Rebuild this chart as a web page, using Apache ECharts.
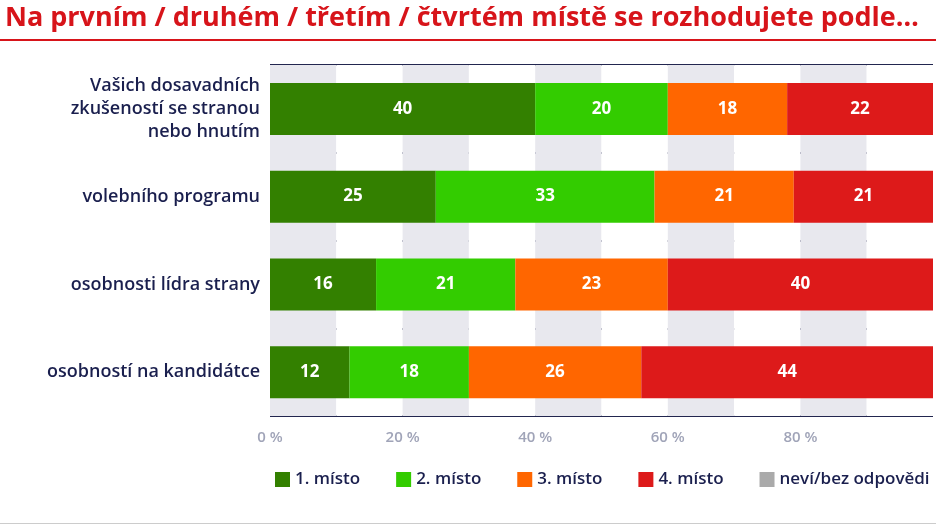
<!DOCTYPE html><html><head><meta charset="utf-8"><script src="https://cdn.jsdelivr.net/npm/echarts@6/dist/echarts.min.js"></script>
<style>body{margin:0}#c{width:936px;height:526px}</style></head><body><div id="c"></div><script>
const categories=["Vašich dosavadních\nzkušeností se stranou\nnebo hnutím","volebního programu","osobnosti lídra strany","osobností na kandidátce"];
const seriesNames=["1. místo","2. místo","3. místo","4. místo","neví/bez odpovědi"];
const first=[40,25,16,12];
const second=[20,33,21,18];
const third=[18,21,23,26];
const fourth=[22,21,40,44];
const unknown=[0,0,0,0];
const colors=["#338000","#33cc00","#ff6600","#dd1a1a","#aaaaaa"];
const vals=[first,second,third,fourth,unknown];
const chart=echarts.init(document.getElementById('c'));
chart.setOption({
animation:false,
title:{text:"Na prvním / druhém / třetím / čtvrtém místě se rozhodujete podle…",left:0,top:0,textStyle:{color:"#d7141a",fontSize:27,fontWeight:"bold",fontFamily:"Open Sans"}},
graphic:[{type:"rect",shape:{x:0,y:39,width:936,height:2},style:{fill:"#d7141a"}},{type:"rect",shape:{x:0,y:523,width:936,height:1},style:{fill:"#cccccc"}}],
legend:{left:270,top:466,itemWidth:15,itemHeight:15,itemGap:36,icon:"rect",textStyle:{color:"#1a1f4e",fontSize:17,fontWeight:600,fontFamily:"Open Sans"},data:seriesNames},
grid:{left:270,right:-4,top:65,bottom:110},
xAxis:[{type:"value",min:0,max:100,interval:20,axisLine:{show:false},axisTick:{show:false},splitLine:{show:false},
axisLabel:{color:"#a0a4b8",fontSize:15,fontWeight:600,margin:14,fontFamily:"Open Sans",formatter:v=>v>=100?"":v+" %"}},
{type:"value",min:0,max:100,interval:10,show:true,axisLine:{show:false},axisTick:{show:false},axisLabel:{show:false},splitLine:{show:false},
splitArea:{show:true,areaStyle:{color:["#e8e8ee","#ffffff"]}}}],
yAxis:{type:"category",inverse:true,data:categories,axisLine:{show:false},axisTick:{show:false},
splitLine:{show:true,lineStyle:{color:"#22264f",width:2}},
axisLabel:{color:"#1a1f4e",fontSize:18,fontWeight:600,lineHeight:23,margin:10,align:"right",fontFamily:"Open Sans"}},
series:vals.map((d,i)=>({name:seriesNames[i],type:"bar",stack:"s",barWidth:52,data:d,itemStyle:{color:colors[i]},
label:{show:i<4,color:"#fff",fontSize:17,fontWeight:"bold",fontFamily:"Open Sans"}}))
});
</script></body></html>
